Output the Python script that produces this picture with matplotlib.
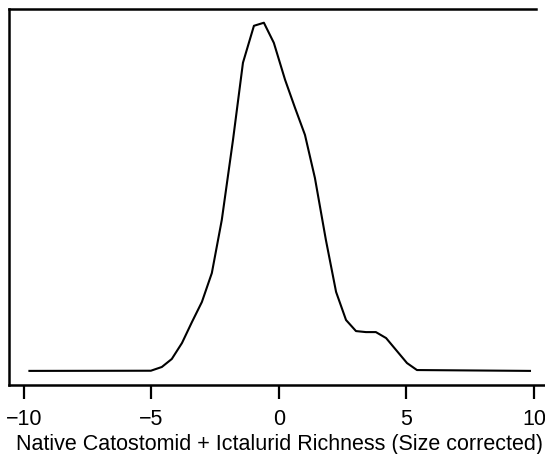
import matplotlib
matplotlib.use('Agg')
import matplotlib.pyplot as plt

# density curve
richness = [-9.78, -5.02, -4.59, -4.20, -3.80, -3.41, -3.02, -2.63, -2.24, -1.80,
            -1.41, -0.98, -0.59, -0.20, 0.24, 0.63, 1.02, 1.41, 1.84, 2.24,
            2.63, 3.02, 3.41, 3.80, 4.20, 4.59, 5.02, 5.41, 9.84]
density = [0.0001, 0.0002, 0.0024, 0.0071, 0.0165, 0.0288, 0.0406, 0.0576, 0.0888, 0.1359,
           0.1812, 0.2029, 0.2047, 0.1929, 0.1712, 0.1547, 0.1388, 0.1135, 0.0771, 0.0465,
           0.0300, 0.0235, 0.0229, 0.0229, 0.0194, 0.0124, 0.0047, 0.0006, 0.0001]
xticks = [-10, -5, 0, 5, 10]
xlabel = 'Native Catostomid + Ictalurid Richness (Size corrected)'

plt.rcParams['font.family'] = ['Liberation Sans', 'DejaVu Sans']

W, H = 545, 454
fig = plt.figure(figsize=(W / 100, H / 100), dpi=100)
# axes box runs a little past the right edge of the figure
left, right, top, bottom = 9.4, 550, 8.8, 385
ax = fig.add_axes([left / W, 1 - bottom / H, (right - left) / W, (bottom - top) / H])

ax.plot(richness, density, color='black', linewidth=1.5)

xr = richness[-1] - richness[0]
x0 = richness[0] - 0.04 * xr
ax.set_xlim(x0, richness[-1] + 0.04 * xr)
yr = max(density)
ax.set_ylim(-0.04 * yr, yr * 1.04)

ax.set_xticks(xticks)
ax.set_yticks([])
ax.tick_params(axis='x', length=10, width=1.6, pad=7, labelsize=15.5)
for s in ax.spines.values():
    s.set_linewidth(1.8)
ax.spines['right'].set_visible(False)
ax.spines['top'].set_bounds(x0, 10.08)
ax.set_xlabel(xlabel, fontsize=15.5, labelpad=3)

fig.savefig('out.png', dpi=100)
plt.close(fig)
